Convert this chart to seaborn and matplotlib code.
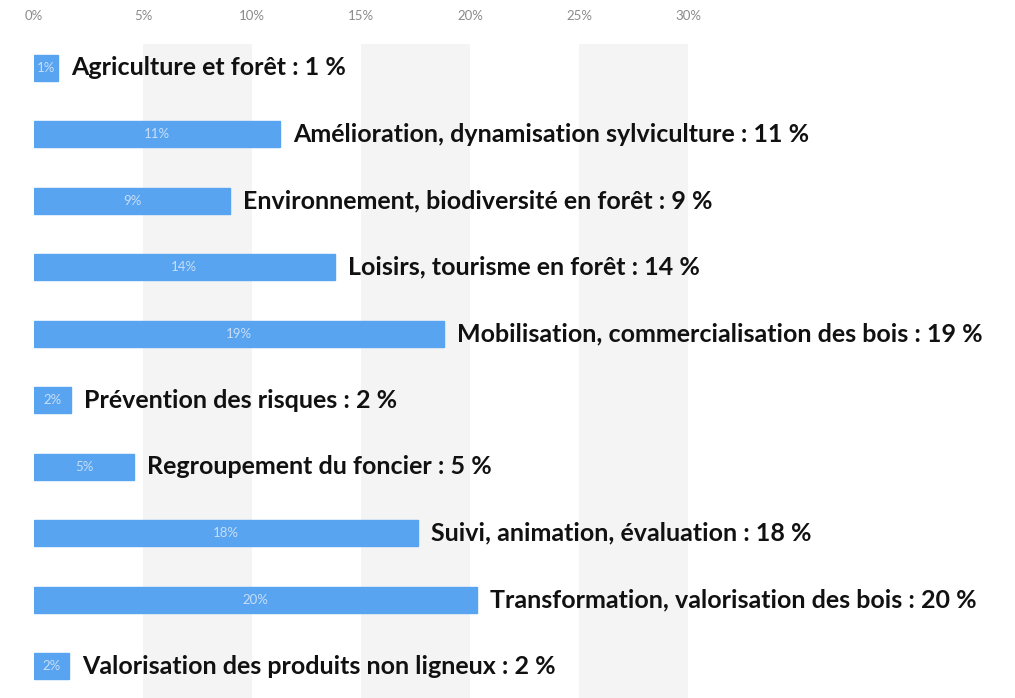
import matplotlib
matplotlib.use("Agg")
import numpy as np
import pandas as pd
import seaborn as sns
from matplotlib import pyplot as plt

# data
categories = [
    "Agriculture et forêt",
    "Amélioration, dynamisation sylviculture",
    "Environnement, biodiversité en forêt",
    "Loisirs, tourisme en forêt",
    "Mobilisation, commercialisation des bois",
    "Prévention des risques",
    "Regroupement du foncier",
    "Suivi, animation, évaluation",
    "Transformation, valorisation des bois",
    "Valorisation des produits non ligneux",
]
values = [1.1, 11.3, 9.0, 13.8, 18.8, 1.7, 4.6, 17.6, 20.3, 1.6]
shown_pct = [1, 11, 9, 14, 19, 2, 5, 18, 20, 2]
x_ticks = [0, 5, 10, 15, 20, 25, 30]

df = pd.DataFrame({"name": categories, "val": values, "pct": shown_pct})

sns.set_theme(style="white")
plt.rcParams["font.family"] = ["Lato", "DejaVu Sans"]

fig = plt.figure(figsize=(10.15, 6.98), dpi=100)
ax = fig.add_axes([34 / 1015, 0, (1015 - 34) / 1015, 654 / 698])

# alternating grey bands
for lo in x_ticks[1::2]:
    ax.axvspan(lo, lo + 5, color="#f4f4f4", zorder=0, lw=0)

sns.barplot(data=df, x="val", y="name", color="#58a4f0", width=0.39,
            saturation=1, ax=ax, zorder=2, edgecolor="#58a4f0")

for i, row in df.iterrows():
    # small value inside the bar, long label after it
    ax.text(row["val"] / 2, i, f"{row['pct']}%", ha="center", va="center",
            fontsize=9.5, color="#c8def8", zorder=3)
    ax.text(row["val"] + 0.6, i, f"{row['name']} : {row['pct']} %", ha="left",
            va="center", fontsize=18, fontweight="bold", color="#111111", zorder=3)

ax.set_xlim(0, 45)
ax.set_ylim(9.48, -0.36)
ax.xaxis.tick_top()
ax.set_xticks(x_ticks)
ax.set_xticklabels([f"{t}%" for t in x_ticks], fontsize=9.5, color="#8a8a8a")
ax.tick_params(axis="x", length=0, pad=16)
ax.set_yticks([])
ax.set_xlabel("")
ax.set_ylabel("")
for s in ax.spines.values():
    s.set_visible(False)

plt.savefig("out.png", dpi=100)
plt.close()
